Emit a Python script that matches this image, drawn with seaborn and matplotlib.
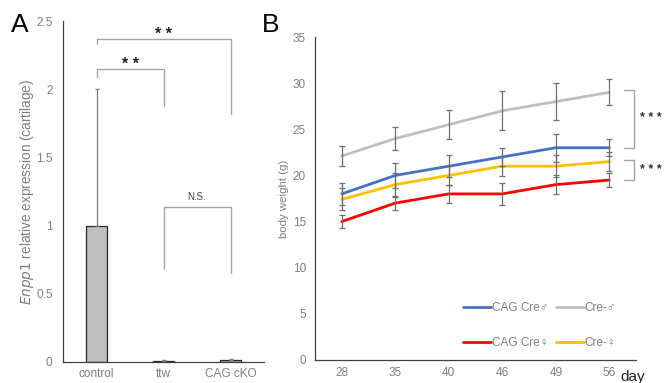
import matplotlib
matplotlib.use("Agg")
import matplotlib.pyplot as plt
import seaborn as sns
import pandas as pd
import numpy as np
from matplotlib.lines import Line2D

# ---------- data ----------
groups_a = ["control", "ttw", "CAG cKO"]
expr_a = [1.0, 0.01, 0.015]
err_a = [1.0, 0.004, 0.004]

days = ["28", "35", "40", "46", "49", "56"]
series_names = ["CAG Cre♂", "Cre-♂", "CAG Cre♀", "Cre-♀"]
cag_m = [18.0, 20.0, 21.0, 22.0, 23.0, 23.0]
cag_m_err = [1.2, 1.4, 1.2, 1.0, 1.5, 0.9]
cre_m = [22.1, 24.0, 25.5, 27.0, 28.0, 29.0]
cre_m_err = [1.1, 1.25, 1.6, 2.1, 2.0, 1.4]
cag_f = [15.0, 17.0, 18.0, 18.0, 19.0, 19.5]
cag_f_err = [0.7, 0.8, 1.0, 1.2, 1.0, 0.8]
cre_f = [17.4, 19.0, 20.0, 21.0, 21.0, 21.5]
cre_f_err = [1.2, 1.3, 1.0, 1.1, 1.2, 1.0]

colors = {"CAG Cre♂": "#4472C4", "Cre-♂": "#BFBFBF",
          "CAG Cre♀": "#FF0000", "Cre-♀": "#FFC000"}

sns.set_style("white")
plt.rcParams["font.family"] = ["Liberation Sans", "DejaVu Sans"]

GRAY = "#7f7f7f"
SPINE = "#404040"

W, H = 665, 383
fig = plt.figure(figsize=(W / 100, H / 100), dpi=100)
axA = fig.add_axes([63/W, 1-362/H, (264-63)/W, (362-21)/H])
axB = fig.add_axes([315/W, 1-360/H, (636-315)/W, (360-37)/H])

# ---------- Panel A ----------
dfa = pd.DataFrame({"group": groups_a, "expr": expr_a})
sns.barplot(data=dfa, x="group", y="expr", ax=axA, color="#BFBFBF",
            edgecolor="#262626", linewidth=0.9, width=0.3, saturation=1)
axA.errorbar(range(len(groups_a)), expr_a, yerr=[np.zeros(3), err_a],
             fmt="none", ecolor="#7f7f7f", elinewidth=0.9, capsize=1.5)
axA.set_xlim(-0.5, 2.5)
axA.set_ylim(0, 2.5)
axA.set_yticks([0, 0.5, 1, 1.5, 2, 2.5])
axA.set_yticklabels(["0", "0.5", "1", "1.5", "2", "2.5"])
axA.tick_params(axis="both", length=0, labelsize=8.5, labelcolor=GRAY)
axA.tick_params(axis="y", pad=7.5)
axA.tick_params(axis="x", pad=4)
axA.set_xlabel("")
axA.set_ylabel(r"$\it{Enpp1}$ relative expression (cartilage)", color=GRAY,
               fontsize=9.8, labelpad=0)
for s in ["top", "right"]:
    axA.spines[s].set_visible(False)
for s in ["left", "bottom"]:
    axA.spines[s].set_color(SPINE)
    axA.spines[s].set_linewidth(0.9)

bc = "#a6a6a6"
def bracket(ax, x1, x2, y, yl, yr):
    ax.plot([x1, x1, x2, x2], [yl, y, y, yr], color=bc, lw=1, clip_on=False)

bracket(axA, 0, 2, 2.37, 2.33, 1.82)
bracket(axA, 0, 1, 2.15, 2.09, 1.88)
bracket(axA, 1, 2, 1.14, 0.68, 0.65)
axA.text(1.0, 2.40, "* *", ha="center", va="center", fontsize=11.5,
         fontweight="bold", color="#222222")
axA.text(0.5, 2.18, "* *", ha="center", va="center", fontsize=11.5,
         fontweight="bold", color="#222222")
axA.text(1.5, 1.21, "N.S.", ha="center", va="center", fontsize=7,
         color="#404040")

fig.text(19.5/W, 1-25/H, "A", fontsize=19, va="center", ha="center", color="black")
fig.text(271/W, 1-25/H, "B", fontsize=19, va="center", ha="center", color="black")

# ---------- Panel B ----------
vals = [cag_m, cre_m, cag_f, cre_f]
errs = [cag_m_err, cre_m_err, cag_f_err, cre_f_err]
rows = []
for name, v in zip(series_names, vals):
    for i, w in enumerate(v):
        rows.append({"pos": i, "day": days[i], "weight": w, "group": name})
dfb = pd.DataFrame(rows)

for name, e, v in zip(series_names, errs, vals):
    axB.errorbar(range(len(days)), v, yerr=e, fmt="none", ecolor="#6e6e6e",
                 elinewidth=0.9, capsize=2, capthick=0.9, zorder=3)
sns.lineplot(data=dfb, x="pos", y="weight", hue="group", palette=colors,
             hue_order=series_names, ax=axB, lw=2, legend=False, zorder=2)

axB.set_xlim(-0.5, 5.5)
axB.set_ylim(0, 35)
axB.set_xticks(range(len(days)))
axB.set_xticklabels(days)
axB.set_yticks(range(0, 36, 5))
axB.tick_params(axis="both", length=0, labelsize=8.5, labelcolor=GRAY)
axB.tick_params(axis="y", pad=6.5)
axB.tick_params(axis="x", pad=5)
axB.set_xlabel("")
axB.set_ylabel("body weight (g)", color=GRAY, fontsize=8.2, labelpad=3)
for s in ["top", "right"]:
    axB.spines[s].set_visible(False)
for s in ["left", "bottom"]:
    axB.spines[s].set_color(SPINE)
    axB.spines[s].set_linewidth(0.9)

# legend
order = ["CAG Cre♂", "CAG Cre♀", "Cre-♂", "Cre-♀"]
handles = [Line2D([], [], color=colors[n], lw=2) for n in order]
leg = axB.legend(handles, order, ncol=2, frameon=False, fontsize=8.5,
                 loc="center left", bbox_to_anchor=(457/W, 1-325.5/H),
                 bbox_transform=fig.transFigure, labelspacing=1.9,
                 handlelength=2.4, handletextpad=0.05, columnspacing=0.6,
                 borderpad=0)
for t in leg.get_texts():
    t.set_color(GRAY)

# right-side significance brackets
def rbracket(ax, y1, y2):
    ax.plot([5.28, 5.46, 5.46, 5.28], [y1, y1, y2, y2], color=bc, lw=1,
            clip_on=False)
rbracket(axB, 29.3, 23.0)
rbracket(axB, 21.7, 19.5)
axB.text(5.58, 26.2, "* * *", ha="left", va="center", fontsize=9,
         fontweight="bold", color="#333333", clip_on=False)
axB.text(5.58, 20.6, "* * *", ha="left", va="center", fontsize=9,
         fontweight="bold", color="#333333", clip_on=False)

fig.text(633/W, 1-377/H, "day", fontsize=11, ha="center", va="center",
         color="#222222")

fig.savefig("out.png", dpi=100)
